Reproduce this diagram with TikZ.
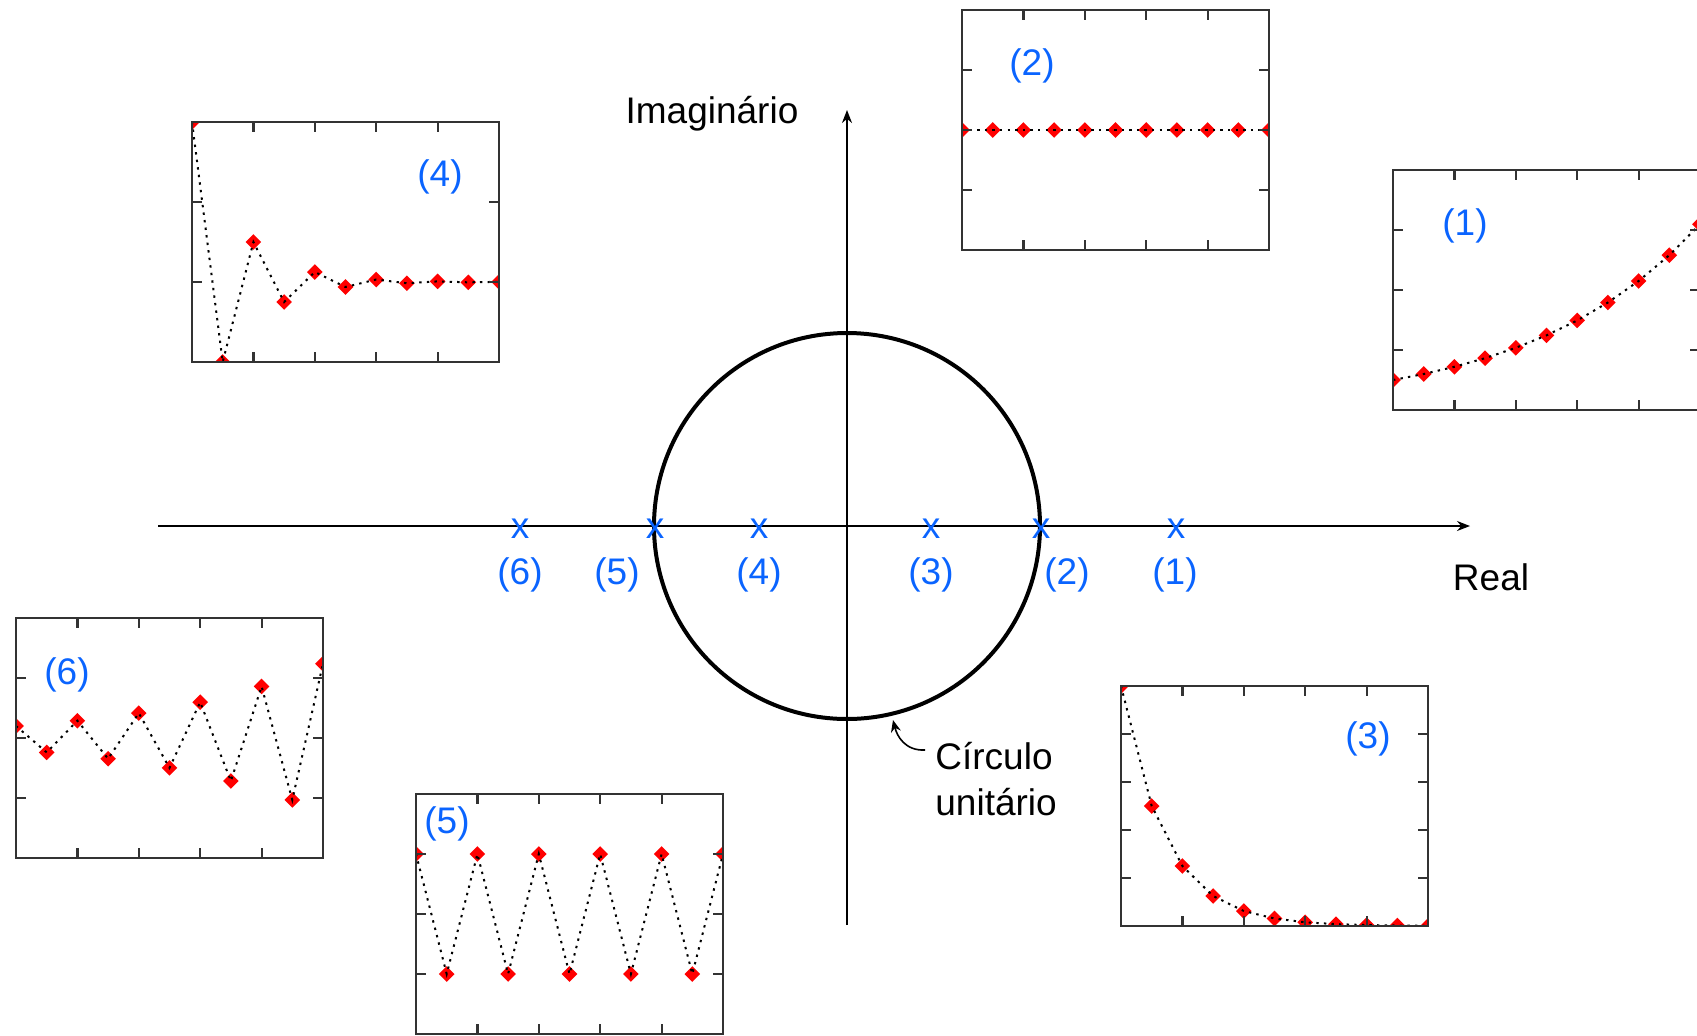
\documentclass[tikz,border=0pt]{standalone}
\usepackage{fontspec}
\setmainfont{Liberation Sans}
\usetikzlibrary{arrows.meta}
\definecolor{polo}{HTML}{0A64FF}
\definecolor{moldura}{HTML}{333333}

% resposta ao impulso: canto inferior esquerdo, unidade y, y max, sequencia em \x
\newcommand{\resposta}[5]{%
  \begin{scope}[shift={(#1,#2)}, x=15.35pt, y=#3]
    \begin{scope}
      \clip (0,0) rectangle (10,#4);
      \foreach \x in {0,...,10}
        \fill[amostra] (\x,{#5}) +(-3.9pt,0) -- +(0,3.9pt) -- +(3.9pt,0) -- +(0,-3.9pt) -- cycle;
      \draw[traco] plot[domain=0:10, samples=11] (\x,{#5});
    \end{scope}
    \foreach \t in {2,4,6,8} {
      \draw[tique] (\t,0) -- ++(0,5pt);
      \draw[tique] (\t,#4) -- ++(0,-5pt);
    }
    \foreach \t in {1,...,#4} {
      \draw[tique] (0,\t) -- ++(5pt,0);
      \draw[tique] (10,\t) -- ++(-5pt,0);
    }
    \draw[quadro] (0,0) rectangle (10,#4);
  \end{scope}}

\begin{document}
\begin{tikzpicture}[x=0.5pt, y=-0.5pt, font=\fontsize{18.5}{23}\selectfont,
    eixo/.style={line width=0.8pt, -{Stealth[length=6.5pt, width=5pt]}},
    unitario/.style={line width=2pt},
    polo/.style={text=polo, inner sep=0pt},
    amostra/.style={red},
    traco/.style={black, line width=1pt, dash pattern=on 1.2pt off 2.6pt},
    tique/.style={moldura, line width=1.1pt},
    quadro/.style={moldura, line width=1.2pt}]
  \useasboundingbox (0,0) rectangle (1697,1035);
  \clip (0,0) rectangle (1697,1035);

  % plano z
  \coordinate (o) at (847,526);
  \coordinate (re0) at (158,526);
  \coordinate (re1) at (1470,526);
  \coordinate (im0) at (847,925);
  \coordinate (im1) at (847,110);
  \draw[eixo] (re0) -- (re1);
  \draw[eixo] (im0) -- (im1);
  \draw[unitario] (o) circle[radius=96.5pt];
  \node (im) at (712,114) {Imaginário};
  \node (re) at (1491,577) {Real};

  % polos
  \node[polo] (p1) at (1176,529) {x};
  \node[polo] (p2) at (1041,529) {x};
  \node[polo] (p3) at (931,529) {x};
  \node[polo] (p4) at (759,529) {x};
  \node[polo] (p5) at (655,529) {x};
  \node[polo] (p6) at (520,529) {x};
  \node[polo] (r1) at (1175,575) {(1)};
  \node[polo] (r2) at (1067,575) {(2)};
  \node[polo] (r3) at (931,575) {(3)};
  \node[polo] (r4) at (759,575) {(4)};
  \node[polo] (r5) at (617,575) {(5)};
  \node[polo] (r6) at (520,575) {(6)};

  % legenda do circulo
  \node[align=left, anchor=west, inner sep=0pt] (circ) at (935,779) {Círculo\\unitário};
  \coordinate (ctail) at (925,750);
  \coordinate (ctip) at (893,720);
  \draw[line width=0.8pt, -{Stealth[length=6pt, width=5pt]}]
    (ctail) .. controls (905,751) and (897,736) .. (ctip);

  % respostas
  \resposta{1393}{410}{30pt}{4}{0.5*1.2^\x}
  \resposta{962}{250}{30pt}{4}{2}
  \resposta{1121}{926}{24pt}{5}{5*0.5^\x}
  \resposta{192}{362}{40pt}{3}{1+2*cos(180*\x)*0.5^\x}
  \resposta{416}{1034}{30pt}{4}{2+cos(180*\x)}
  \resposta{16}{858}{30pt}{4}{2+0.2*cos(180*\x)*1.2^\x}

  \node[polo] (t1) at (1465,226) {(1)};
  \node[polo] (t2) at (1032,66) {(2)};
  \node[polo] (t3) at (1368,739) {(3)};
  \node[polo] (t4) at (440,177) {(4)};
  \node[polo] (t5) at (447,824) {(5)};
  \node[polo] (t6) at (67,675) {(6)};
\end{tikzpicture}
\end{document}
